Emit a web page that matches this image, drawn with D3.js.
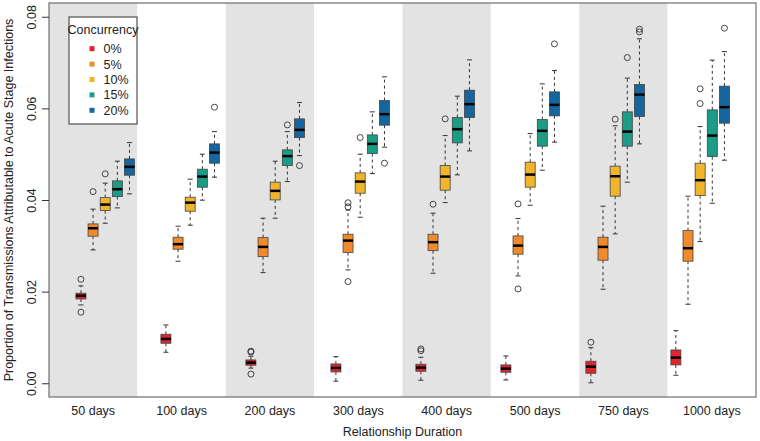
<!DOCTYPE html>
<html>
<head>
<meta charset="utf-8">
<script src="https://cdn.jsdelivr.net/npm/d3@7"></script>
<style>
  body { margin: 0; background: #fff; }
  text { font-family: "Liberation Sans", Arial, sans-serif; fill: #222; }
</style>
</head>
<body>
<div id="chart"></div>
<script>
const durations = ["50 days", "100 days", "200 days", "300 days", "400 days", "500 days", "750 days", "1000 days"];
const concurrency = ["0%", "5%", "10%", "15%", "20%"];
const colors = ["#E0242B", "#F08A2C", "#F2B42A", "#1A9C86", "#15669F"];
const yTicks = [0, 0.02, 0.04, 0.06, 0.08];

// [lower whisker, Q1, median, Q3, upper whisker] per duration
const box0 = [
  [0.0171, 0.0184, 0.0191, 0.01965, 0.02125],
  [0.00677, 0.00873, 0.00967, 0.0107, 0.01273],
  [0.0033, 0.00393, 0.0045, 0.00509, 0.0059],
  [0.00044, 0.00247, 0.00334, 0.00421, 0.00581],
  [0.00066, 0.00262, 0.00341, 0.00415, 0.00568],
  [0.00072, 0.0024, 0.00319, 0.004, 0.00596],
  [0.0001, 0.00218, 0.00362, 0.0048, 0.00777],
  [0.00175, 0.004, 0.00559, 0.00727, 0.01148]
];
const box5 = [
  [0.0291, 0.0321, 0.03384, 0.03478, 0.038],
  [0.02664, 0.02926, 0.03035, 0.03188, 0.03428],
  [0.02415, 0.02764, 0.02976, 0.03179, 0.03603],
  [0.02474, 0.02852, 0.03114, 0.03253, 0.0378],
  [0.02402, 0.02895, 0.03079, 0.03253, 0.03712],
  [0.02343, 0.02817, 0.03004, 0.03216, 0.03594],
  [0.02052, 0.02686, 0.02976, 0.03188, 0.03865],
  [0.01725, 0.02664, 0.02948, 0.03332, 0.04083]
];
const box10 = [
  [0.03493, 0.03769, 0.039, 0.04052, 0.04367],
  [0.0345, 0.03755, 0.03943, 0.04061, 0.04454],
  [0.03603, 0.04002, 0.04199, 0.04389, 0.04847],
  [0.03624, 0.04148, 0.04402, 0.04592, 0.05],
  [0.03943, 0.04214, 0.04511, 0.04751, 0.05406],
  [0.03886, 0.0428, 0.04555, 0.04825, 0.0545],
  [0.0326, 0.04084, 0.04519, 0.04739, 0.0562],
  [0.03092, 0.04096, 0.04432, 0.04803, 0.05603]
];
const box15 = [
  [0.03828, 0.04074, 0.04236, 0.04417, 0.04847],
  [0.03996, 0.04279, 0.04511, 0.04672, 0.05],
  [0.04402, 0.04751, 0.04958, 0.05094, 0.05493],
  [0.04577, 0.05013, 0.05225, 0.05421, 0.05924],
  [0.04548, 0.05247, 0.05546, 0.058, 0.06266],
  [0.04651, 0.05175, 0.05509, 0.05755, 0.06535],
  [0.04389, 0.05175, 0.05493, 0.05924, 0.0666],
  [0.0393, 0.04948, 0.05406, 0.05967, 0.07052]
];
const box20 = [
  [0.04133, 0.04541, 0.04723, 0.04897, 0.05253],
  [0.04498, 0.04803, 0.05035, 0.05225, 0.05493],
  [0.04969, 0.05363, 0.05531, 0.05771, 0.06127],
  [0.05153, 0.05633, 0.05873, 0.0617, 0.06688],
  [0.05072, 0.058, 0.06092, 0.06397, 0.07059],
  [0.05262, 0.05836, 0.06077, 0.0636, 0.06825],
  [0.05225, 0.05821, 0.06301, 0.0652, 0.07518],
  [0.04869, 0.05677, 0.06026, 0.06485, 0.0724]
];
// outliers: [duration index, concurrency index, value]
const outliers = [
  [0, 0, 0.0227], [0, 0, 0.0155], [0, 1, 0.04183], [0, 2, 0.0457],
  [1, 4, 0.06026],
  [2, 0, 0.0070], [2, 0, 0.0068], [2, 0, 0.0020], [2, 3, 0.0564], [2, 4, 0.04751],
  [3, 1, 0.0394], [3, 1, 0.0385], [3, 1, 0.0222], [3, 2, 0.05363], [3, 4, 0.04803],
  [4, 0, 0.0075], [4, 0, 0.0071], [4, 1, 0.03908], [4, 2, 0.05771],
  [5, 1, 0.03915], [5, 1, 0.02059], [5, 4, 0.07408],
  [6, 0, 0.00895], [6, 2, 0.05764], [6, 3, 0.07109], [6, 4, 0.07729], [6, 4, 0.0767],
  [7, 2, 0.06426], [7, 2, 0.06105], [7, 4, 0.07751]
];

const boxes = [box0, box5, box10, box15, box20];

const W = 760, H = 441;
const plot = { left: 49, right: 756, top: 3, bottom: 397 };
const fs = "12.5px";

const svg = d3.select("#chart").append("svg")
  .attr("width", W)
  .attr("height", H);

const y = d3.scaleLinear()
  .domain([-0.003, 0.083])
  .range([plot.bottom, plot.top]);

// band per duration for the shading and labels
const band = d3.scaleBand()
  .domain(durations)
  .range([plot.left, plot.right]);

// box positions: 7 slots per duration, 5 boxes in each
const x = d3.scaleLinear()
  .domain([-1.63, 56.6])
  .range([plot.left, plot.right]);
const pos = (g, s) => g * 7 + s + 1;

svg.append("g").selectAll("rect")
  .data(durations)
  .join("rect")
    .attr("x", d => band(d))
    .attr("y", plot.top)
    .attr("width", band.bandwidth())
    .attr("height", plot.bottom - plot.top)
    .attr("fill", (d, i) => i % 2 === 0 ? "#E3E3E3" : "#fff");

const boxW = 10;
const rows = [];
boxes.forEach((arr, s) => arr.forEach((b, g) => rows.push({ g, s, b })));

const bx = svg.append("g").selectAll("g")
  .data(rows)
  .join("g")
    .attr("transform", d => "translate(" + x(pos(d.g, d.s)) + ",0)");

// whiskers
bx.append("line")
  .attr("y1", d => y(d.b[3])).attr("y2", d => y(d.b[4]))
  .attr("stroke", "#333").attr("stroke-dasharray", "3,3");
bx.append("line")
  .attr("y1", d => y(d.b[1])).attr("y2", d => y(d.b[0]))
  .attr("stroke", "#333").attr("stroke-dasharray", "3,3");
bx.append("line")
  .attr("x1", -boxW / 4).attr("x2", boxW / 4)
  .attr("y1", d => y(d.b[4])).attr("y2", d => y(d.b[4]))
  .attr("stroke", "#333");
bx.append("line")
  .attr("x1", -boxW / 4).attr("x2", boxW / 4)
  .attr("y1", d => y(d.b[0])).attr("y2", d => y(d.b[0]))
  .attr("stroke", "#333");

bx.append("rect")
  .attr("x", -boxW / 2)
  .attr("width", boxW)
  .attr("y", d => y(d.b[3]))
  .attr("height", d => y(d.b[1]) - y(d.b[3]))
  .attr("fill", d => colors[d.s])
  .attr("stroke", "#444")
  .attr("stroke-width", 0.8);

bx.append("line")
  .attr("x1", -boxW / 2).attr("x2", boxW / 2)
  .attr("y1", d => y(d.b[2])).attr("y2", d => y(d.b[2]))
  .attr("stroke", "#000").attr("stroke-width", 2.5);

svg.append("g").selectAll("circle")
  .data(outliers)
  .join("circle")
    .attr("cx", d => x(pos(d[0], d[1])))
    .attr("cy", d => y(d[2]))
    .attr("r", 3)
    .attr("fill", "none")
    .attr("stroke", "#333")
    .attr("stroke-width", 0.9);

// frame
svg.append("rect")
  .attr("x", plot.left).attr("y", plot.top)
  .attr("width", plot.right - plot.left)
  .attr("height", plot.bottom - plot.top)
  .attr("fill", "none")
  .attr("stroke", "#6e6e6e")
  .attr("stroke-width", 1.2);

// y axis
const yAxis = svg.append("g")
  .attr("transform", "translate(" + plot.left + ",0)")
  .call(d3.axisLeft(y).tickValues(yTicks).tickFormat(d3.format(".2f")).tickSize(7));
yAxis.select(".domain").remove();
yAxis.selectAll("line").attr("stroke", "#333");
yAxis.selectAll("text")
  .attr("x", 0).attr("dy", 0)
  .attr("transform", "translate(-13,0) rotate(-90)")
  .attr("text-anchor", "middle")
  .style("font-size", fs)
  .style("font-family", "Liberation Sans, Arial, sans-serif")
  .attr("fill", "#222");

// x labels
svg.append("g").selectAll("text")
  .data(durations)
  .join("text")
    .attr("x", d => band(d) + band.bandwidth() / 2)
    .attr("y", 415)
    .attr("text-anchor", "middle")
    .style("font-size", fs)
    .text(d => d);

svg.append("text")
  .attr("x", (plot.left + plot.right) / 2)
  .attr("y", 436)
  .attr("text-anchor", "middle")
  .style("font-size", fs)
  .text("Relationship Duration");

svg.append("text")
  .attr("transform", "translate(13," + (plot.top + plot.bottom) / 2 + ") rotate(-90)")
  .attr("text-anchor", "middle")
  .style("font-size", fs)
  .text("Proportion of Transmissions Attributable to Acute Stage Infections");

// legend
const lg = svg.append("g");
lg.append("rect")
  .attr("x", 69).attr("y", 17)
  .attr("width", 68).attr("height", 107)
  .attr("fill", "#fff")
  .attr("stroke", "#333");
lg.append("text")
  .attr("x", 103).attr("y", 33.5)
  .attr("text-anchor", "middle")
  .style("font-size", fs)
  .text("Concurrency");
const li = lg.selectAll(".item")
  .data(concurrency)
  .join("g")
    .attr("class", "item")
    .attr("transform", (d, i) => "translate(0," + (48.7 + i * 15.4) + ")");
li.append("rect")
  .attr("x", 89.5).attr("y", -2.5)
  .attr("width", 5).attr("height", 5)
  .attr("fill", (d, i) => colors[i]);
li.append("text")
  .attr("x", 103.5).attr("y", 4.4)
  .style("font-size", fs)
  .text(d => d);
</script>
</body>
</html>
